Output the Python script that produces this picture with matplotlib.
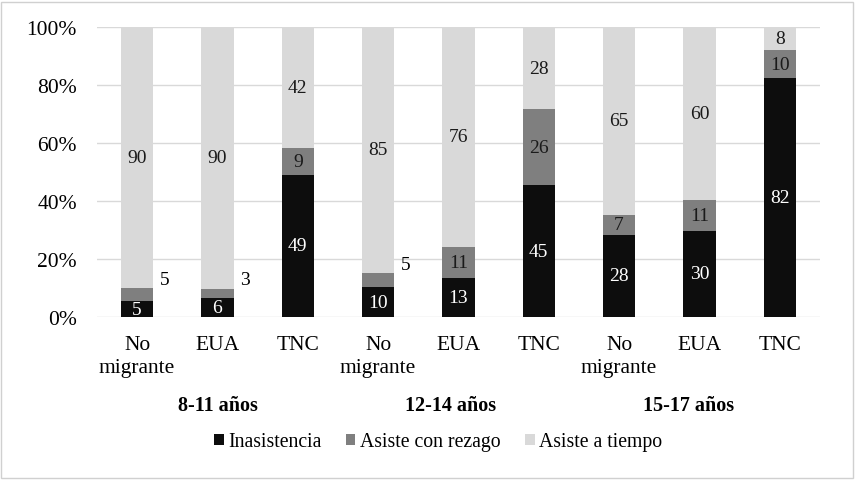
import numpy as np
import matplotlib
matplotlib.use("Agg")
import matplotlib.pyplot as plt
from matplotlib.patches import Rectangle

plt.rcParams['font.family'] = ['Liberation Serif', 'DejaVu Serif']

# data (percent; labels are the rounded values)
categories = ["No\nmigrante", "EUA", "TNC"] * 3
groups = ["8-11 años", "12-14 años", "15-17 años"]
inasistencia = [5.4, 6.4, 49.0, 10.3, 13.4, 45.4, 28.3, 29.7, 82.4]
rezago = [4.6, 3.4, 9.3, 4.9, 10.7, 26.2, 6.9, 10.6, 9.6]
a_tiempo = [90.0, 90.2, 41.7, 84.8, 75.9, 28.4, 64.8, 59.7, 8.0]
# gray labels drawn beside the bar (too thin to hold text)
outside = [0, 1, 3]

c_black = "#0d0d0d"
c_gray = "#7f7f7f"
c_light = "#d9d9d9"

ina = np.array(inasistencia)
rez = np.array(rezago)
tie = np.array(a_tiempo)

fig = plt.figure(figsize=(8.55, 4.81), dpi=100)
fig.patches.append(Rectangle((0.001, 0.004), 0.997, 0.99, transform=fig.transFigure,
                             fill=False, edgecolor="#d0d0d0", linewidth=1))
ax = fig.add_axes([0.1134, 0.339, 0.8456, 0.603])

x = np.arange(len(categories))
w = 0.4
ax.bar(x, ina, w, color=c_black, label="Inasistencia", zorder=3)
ax.bar(x, rez, w, bottom=ina, color=c_gray, label="Asiste con rezago", zorder=3)
ax.bar(x, tie, w, bottom=ina + rez, color=c_light, label="Asiste a tiempo", zorder=3)

fs = 14
for i in range(len(x)):
    ax.text(x[i], ina[i] / 2, f"{ina[i]:.0f}", ha="center", va="center",
            color="white", fontsize=fs, zorder=4)
    if i in outside:
        ax.text(x[i] + w / 2 + 0.08, ina[i] + rez[i] + 3, f"{rez[i]:.0f}",
                ha="left", va="center", color="black", fontsize=fs, zorder=4)
    else:
        ax.text(x[i], ina[i] + rez[i] / 2, f"{rez[i]:.0f}", ha="center", va="center",
                color="#1a1a1a", fontsize=fs, zorder=4)
    ax.text(x[i], ina[i] + rez[i] + tie[i] / 2, f"{tie[i]:.0f}", ha="center",
            va="center", color="#1a1a1a", fontsize=fs, zorder=4)

ax.set_xlim(-0.5, len(x) - 0.5)
ax.set_ylim(0, 100)
ax.set_yticks(np.arange(0, 101, 20))
ax.set_yticklabels([f"{v}%" for v in range(0, 101, 20)], fontsize=15.5)
ax.set_xticks(x)
ax.set_xticklabels(categories, fontsize=15.5, linespacing=1.3)
ax.tick_params(length=0)
ax.tick_params(axis="x", pad=13)
ax.tick_params(axis="y", pad=14.5)
ax.grid(axis="y", color=c_light, linewidth=1, zorder=0)
for s in ax.spines.values():
    s.set_visible(False)

shift = [0, -0.1, -0.13]
for g, name in enumerate(groups):
    ax.text(g * 3 + 1 + shift[g], -30.5, name, ha="center", va="center",
            fontsize=14.5, fontweight="bold")

ax.legend(loc="center", bbox_to_anchor=(0.472, -0.43), ncol=3, frameon=False,
          fontsize=14.2, handlelength=0.5, handleheight=0.5, handletextpad=0.25,
          columnspacing=1.2)

fig.savefig("out.png", dpi=100)
